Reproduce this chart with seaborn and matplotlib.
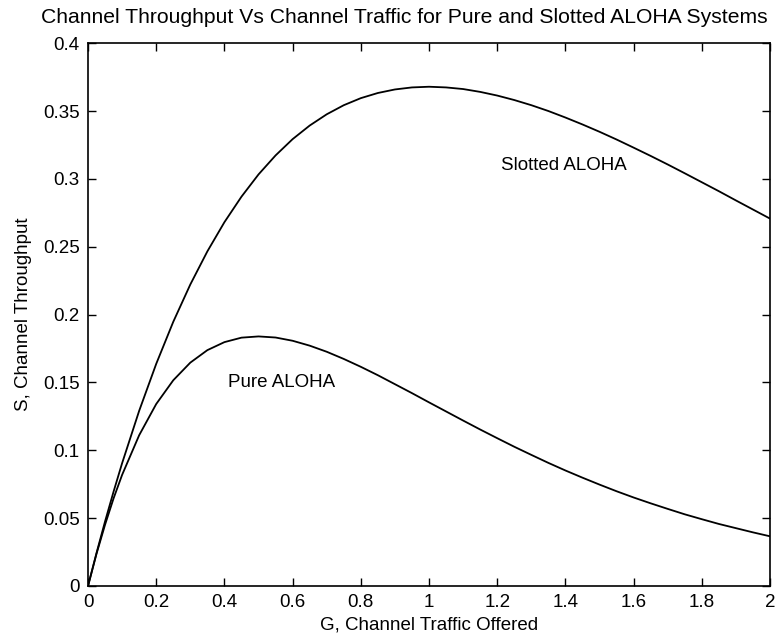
import matplotlib
matplotlib.use("Agg")
import matplotlib.pyplot as plt
import seaborn as sns
import pandas as pd

# Values
G = [0.0, 0.025, 0.05, 0.075, 0.1, 0.15, 0.2, 0.25, 0.3, 0.35, 0.4, 0.45, 0.5, 0.55,
     0.6, 0.65, 0.7, 0.75, 0.8, 0.85, 0.9, 0.95, 1.0, 1.05, 1.1, 1.15, 1.2, 1.25, 1.3,
     1.35, 1.4, 1.45, 1.5, 1.55, 1.6, 1.65, 1.7, 1.75, 1.8, 1.85, 1.9, 1.95, 2.0]
pure = [0.0, 0.0238, 0.0452, 0.0646, 0.0819, 0.1111, 0.1341, 0.1516, 0.1646, 0.1738,
        0.1797, 0.1830, 0.1839, 0.1831, 0.1807, 0.1771, 0.1726, 0.1673, 0.1615, 0.1553,
        0.1487, 0.1421, 0.1353, 0.1286, 0.1219, 0.1153, 0.1089, 0.1026, 0.0966, 0.0907,
        0.0851, 0.0798, 0.0747, 0.0698, 0.0652, 0.0609, 0.0568, 0.0528, 0.0492, 0.0457,
        0.0426, 0.0395, 0.0366]
slotted = [0.0, 0.0244, 0.0476, 0.0696, 0.0905, 0.1291, 0.1637, 0.1947, 0.2222, 0.2466,
           0.2681, 0.2869, 0.3033, 0.3173, 0.3293, 0.3393, 0.3476, 0.3543, 0.3595, 0.3633,
           0.3659, 0.3674, 0.3679, 0.3674, 0.3662, 0.3641, 0.3614, 0.3581, 0.3543, 0.3500,
           0.3452, 0.3401, 0.3347, 0.3290, 0.3230, 0.3169, 0.3106, 0.3041, 0.2975, 0.2909,
           0.2841, 0.2774, 0.2707]
series_names = ["Pure ALOHA", "Slotted ALOHA"]
xticks = [0, 0.2, 0.4, 0.6, 0.8, 1, 1.2, 1.4, 1.6, 1.8, 2]
xtick_labels = ["0", "0.2", "0.4", "0.6", "0.8", "1", "1.2", "1.4", "1.6", "1.8", "2"]
yticks = [0, 0.05, 0.1, 0.15, 0.2, 0.25, 0.3, 0.35, 0.4]
ytick_labels = ["0", "0.05", "0.1", "0.15", "0.2", "0.25", "0.3", "0.35", "0.4"]

df = pd.DataFrame({
    "G": G + G,
    "S": pure + slotted,
    "system": [series_names[0]] * len(G) + [series_names[1]] * len(G),
})

sns.set_theme(style="white")
plt.rcParams["font.family"] = ["Liberation Sans", "DejaVu Sans"]

fig = plt.figure(figsize=(7.81, 6.35), dpi=100)
ax = fig.add_axes([0.1127, 0.0772, 0.8733, 0.8548])
sns.lineplot(data=df, x="G", y="S", hue="system", palette=["black", "black"],
             linewidth=1.3, legend=False, ax=ax)

ax.set_xlim(0, 2)
ax.set_ylim(0, 0.4)
ax.set_xticks(xticks)
ax.set_xticklabels(xtick_labels)
ax.set_yticks(yticks)
ax.set_yticklabels(ytick_labels)
ax.tick_params(direction="in", length=6, width=1, colors="black", labelsize=13.5,
               top=True, right=True, bottom=True, left=True, pad=6)
for s in ax.spines.values():
    s.set_color("black")
    s.set_linewidth(1.2)

ax.set_xlabel("G, Channel Traffic Offered", fontsize=13.5, color="black", labelpad=4)
ax.set_ylabel("S, Channel Throughput", fontsize=13.5, color="black", labelpad=8)
fig.text(0.518, 0.972, "Channel Throughput Vs Channel Traffic for Pure and Slotted ALOHA Systems",
         ha="center", va="center", fontsize=15.2, color="black")

ax.text(1.21, 0.31, "Slotted ALOHA", fontsize=13.5, color="black", va="center")
ax.text(0.41, 0.150, "Pure ALOHA", fontsize=13.5, color="black", va="center")

fig.savefig("out.png", dpi=100, facecolor="white")
